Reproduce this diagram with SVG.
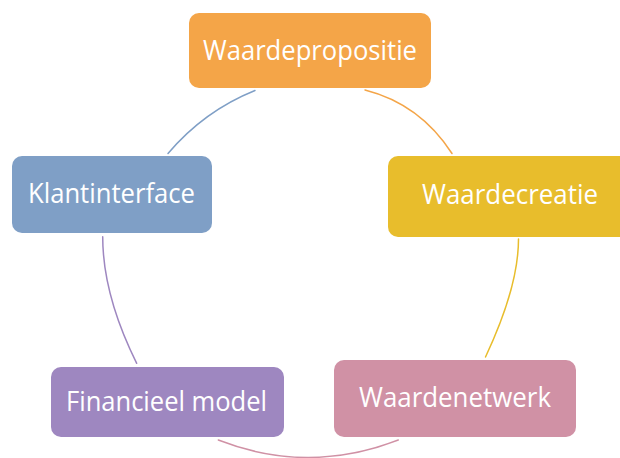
<svg xmlns="http://www.w3.org/2000/svg" width="620" height="458" viewBox="0 0 620 458">
  <style>
    .node rect { stroke: none; }
    .label { font-family: "Open Sans", "Liberation Sans", sans-serif; font-size: 27px; fill: #ffffff; text-anchor: middle; }
    .arc { fill: none; stroke-width: 1.5; stroke-linecap: round; }
  </style>
  <rect width="620" height="458" fill="#ffffff"/>

  <!-- cycle connectors -->
  <g id="connectors">
    <path class="arc" stroke="#7F9FC6" d="M255,90.5 Q204,111 168,153.5"/>
    <path class="arc" stroke="#F4A548" d="M365,90 Q420,104 452,153.5"/>
    <path class="arc" stroke="#E8BD2C" d="M518.5,239 Q518.5,287 485.5,357"/>
    <path class="arc" stroke="#D091A5" d="M218.3,440 Q308,475 398.3,440"/>
    <path class="arc" stroke="#9E87C0" d="M102.7,236.7 Q102.7,295 136.7,363.3"/>
  </g>

  <g id="waardepropositie" class="node">
    <rect x="189" y="13" width="242" height="75" rx="10" fill="#F4A548"/>
    <text class="label" x="310" y="60" textLength="214" lengthAdjust="spacingAndGlyphs">Waardepropositie</text>
  </g>

  <g id="waardecreatie" class="node">
    <rect x="388" y="156" width="244" height="81" rx="10" fill="#E8BD2C"/>
    <text class="label" x="510" y="204" textLength="176" lengthAdjust="spacingAndGlyphs">Waardecreatie</text>
  </g>

  <g id="klantinterface" class="node">
    <rect x="12" y="156" width="200" height="77" rx="10" fill="#7F9FC6"/>
    <text class="label" x="111.5" y="203" textLength="167" lengthAdjust="spacingAndGlyphs">Klantinterface</text>
  </g>

  <g id="financieel-model" class="node">
    <rect x="51" y="367" width="233" height="70" rx="10" fill="#9E87C0"/>
    <text class="label" x="166.5" y="411" textLength="201" lengthAdjust="spacingAndGlyphs">Financieel model</text>
  </g>

  <g id="waardenetwerk" class="node">
    <rect x="334" y="360" width="242" height="77" rx="10" fill="#D091A5"/>
    <text class="label" x="455" y="407" textLength="192" lengthAdjust="spacingAndGlyphs">Waardenetwerk</text>
  </g>
</svg>
